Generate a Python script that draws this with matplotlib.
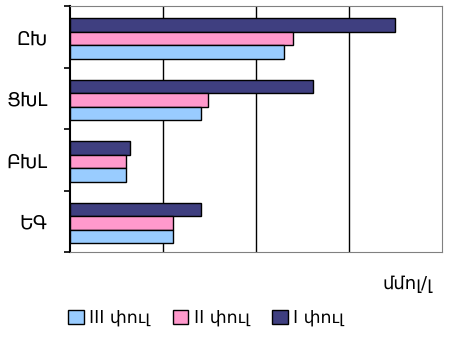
import matplotlib
matplotlib.use('Agg')
import matplotlib.pyplot as plt
import numpy as np

plt.rcParams['font.family'] = ['DejaVu Sans']

groups = ['ԸԽ', 'ՑԽԼ', 'ԲԽԼ', 'ԵԳ']
phase_1 = [3.49, 2.61, 0.65, 1.41]
phase_2 = [2.40, 1.49, 0.61, 1.11]
phase_3 = [2.30, 1.41, 0.61, 1.11]
phase_labels = ['I փուլ', 'II փուլ', 'III փուլ']
unit_label = 'մմոլ/լ'

colors = ['#3f3f80', '#ff99cc', '#99ccff']

fig = plt.figure(figsize=(4.5, 3.4), dpi=100)
ax = fig.add_axes([69.5 / 450, 1 - 252 / 340, (442 - 69.5) / 450, (252 - 6) / 340])

y = np.arange(len(groups)) + 0.03
h = 0.22
bars = []
for i, (vals, col) in enumerate(zip([phase_1, phase_2, phase_3], colors)):
    b = ax.barh(y + (i - 1) * h, vals, height=h, color=col,
                edgecolor='black', linewidth=1.0, zorder=3)
    bars.append(b)

ax.set_xlim(0, 4)
ax.set_ylim(3.5, -0.5)
ax.set_xticks([1, 2, 3])
ax.set_xticklabels([])
ax.tick_params(axis='x', length=0)
ax.grid(axis='x', color='black', linewidth=1.0, zorder=0)

ax.set_yticks(np.arange(len(groups)))
ax.set_yticklabels(groups, fontsize=13.5)
ax.tick_params(axis='y', which='major', length=0, pad=16)
ax.set_yticks(np.arange(len(groups) + 1) - 0.5, minor=True)
ax.tick_params(axis='y', which='minor', length=4, width=1.2, color='black')

for side in ['top', 'right', 'bottom']:
    ax.spines[side].set_color('#808080')
ax.spines['left'].set_color('black')
ax.spines['left'].set_linewidth(1.5)

fig.text(432 / 450, 1 - 284 / 340, unit_label, ha='right', va='center', fontsize=13)

fig.legend([bars[2], bars[1], bars[0]],
           [phase_labels[2], phase_labels[1], phase_labels[0]],
           loc='center', bbox_to_anchor=(206 / 450, 1 - 318 / 340),
           ncol=3, frameon=False, fontsize=12.5, handlelength=0.9,
           handleheight=0.9, handletextpad=0.3, columnspacing=1.3)

fig.savefig('out.png', dpi=100)
